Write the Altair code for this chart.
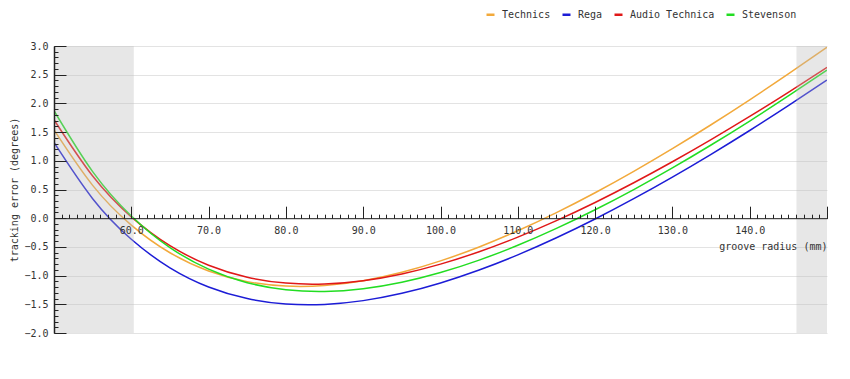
import altair as alt
import pandas as pd

# ---- data ----
radius = [50, 55, 60, 65, 70, 75, 80, 85, 90, 95, 100, 105, 110, 115, 120,
          125, 130, 135, 140, 145, 150]
technics = [1.537, 0.572, -0.120, -0.602, -0.919, -1.105, -1.183, -1.173, -1.089,
            -0.943, -0.744, -0.501, -0.218, 0.098, 0.444, 0.817, 1.212, 1.628,
            2.062, 2.513, 2.978]
rega = [1.319, 0.340, -0.367, -0.864, -1.198, -1.400, -1.495, -1.502, -1.436,
        -1.309, -1.128, -0.903, -0.639, -0.341, -0.014, 0.340, 0.716, 1.113,
        1.528, 1.960, 2.406]
audio_technica = [1.715, 0.735, 0.024, -0.479, -0.819, -1.028, -1.131, -1.146,
                  -1.089, -0.971, -0.800, -0.584, -0.330, -0.043, 0.274, 0.617,
                  0.983, 1.369, 1.773, 2.193, 2.628]
stevenson = [1.872, 0.811, 0.039, -0.512, -0.888, -1.124, -1.247, -1.277, -1.229,
             -1.116, -0.947, -0.730, -0.472, -0.178, 0.147, 0.499, 0.876, 1.275,
             1.693, 2.129, 2.580]

series_names = ["Technics", "Rega", "Audio Technica", "Stevenson"]
series_colors = ["#f2a93b", "#1c1cd6", "#e01818", "#22dd22"]

shade_start = [50.0, 146.05]
shade_end = [60.325, 150.0]

x_domain = [50, 150]
y_domain = [-2, 3]
x_label_values = [60, 70, 80, 90, 100, 110, 120, 130, 140]
x_major_ticks = [50, 60, 70, 80, 90, 100, 110, 120, 130, 140, 150]
x_minor_ticks = list(range(50, 151))
y_major = [-2.0, -1.5, -1.0, -0.5, 0.0, 0.5, 1.0, 1.5, 2.0, 2.5, 3.0]
y_minor = [round(-2 + 0.1 * i, 1) for i in range(51)]

# ---- tables ----
rows = []
for name, vals in zip(series_names, [technics, rega, audio_technica, stevenson]):
    for r, v in zip(radius, vals):
        rows.append({"radius": r, "error": v, "arm": name})
df = pd.DataFrame(rows)
shade_df = pd.DataFrame({"x0": shade_start, "x1": shade_end})

W, H = 773, 287
y_zero_from_top = H * (y_domain[1] - 0) / (y_domain[1] - y_domain[0])
FONT = "DejaVu Sans Mono"
TXT = "#333333"

xs = alt.Scale(domain=x_domain, nice=False, zero=False)
ys = alt.Scale(domain=y_domain, nice=False, zero=False)

# grid (behind everything)
grid_layer = alt.Chart(df).mark_point(opacity=0).encode(
    x=alt.X("radius:Q", scale=xs, axis=None),
    y=alt.Y("error:Q", scale=ys, axis=alt.Axis(
        orient="left", values=y_major, grid=True, gridColor="#e3e3e3",
        gridWidth=1, labels=False, ticks=False, domain=False, title=None,
        zindex=0)),
)

lines = alt.Chart(df).mark_line(strokeWidth=1.5, interpolate="natural", clip=True).encode(
    x=alt.X("radius:Q", scale=xs, axis=alt.Axis(
        orient="bottom", offset=-(H - y_zero_from_top), values=x_label_values,
        format=".1f", ticks=False, tickSize=0, domain=False, grid=False,
        labelPadding=7, labelFont=FONT, labelFontSize=10, labelColor=TXT,
        title="groove radius (mm)", titleFont=FONT, titleFontSize=10,
        titleFontWeight="normal", titleColor=TXT, titleAnchor="end",
        titlePadding=6, zindex=1)),
    y=alt.Y("error:Q", scale=ys, axis=alt.Axis(
        orient="left", values=y_major, format=".1f", grid=False, ticks=False,
        tickSize=0, domain=True, domainColor="#222222", domainWidth=1.5,
        labelPadding=6, labelFont=FONT, labelFontSize=10, labelColor=TXT,
        title="tracking error (degrees)", titleFont=FONT, titleFontSize=10,
        titleFontWeight="normal", titleColor=TXT, titlePadding=4, zindex=1)),
    color=alt.Color("arm:N", scale=alt.Scale(domain=series_names, range=series_colors),
                    legend=alt.Legend(
                        title=None, orient="none", legendX=431, legendY=-37,
                        direction="horizontal", symbolType="stroke",
                        symbolSize=64, symbolStrokeWidth=2.5, labelFont=FONT,
                        labelFontSize=10, labelColor=TXT, columnPadding=6,
                        labelOffset=6, padding=0)),
    detail="arm:N",
)

shade = alt.Chart(shade_df).mark_rect(color="#bbbbbb", opacity=0.35).encode(
    x=alt.X("x0:Q", scale=xs, axis=None),
    x2="x1:Q",
    y=alt.Y(datum=y_domain[1], scale=ys, axis=None),
    y2=alt.Y2(datum=y_domain[0]),
)

major_ticks = alt.Chart(df).mark_point(opacity=0).encode(
    x=alt.X("radius:Q", scale=xs, axis=alt.Axis(
        orient="top", offset=-y_zero_from_top, values=x_major_ticks,
        labels=False, ticks=True, tickSize=12, tickColor="#222222",
        tickWidth=1, domain=True, domainColor="#222222", domainWidth=1,
        grid=False, title=None, zindex=2)),
    y=alt.Y("error:Q", scale=ys, axis=alt.Axis(
        orient="right", offset=-W, values=y_major, labels=False, ticks=True,
        tickSize=12, tickColor="#222222", tickWidth=1, domain=False,
        grid=False, title=None, zindex=2)),
)

minor_ticks = alt.Chart(df).mark_point(opacity=0).encode(
    x=alt.X("radius:Q", scale=xs, axis=alt.Axis(
        orient="top", offset=-y_zero_from_top, values=x_minor_ticks,
        labels=False, ticks=True, tickSize=4, tickColor="#222222",
        tickWidth=1, domain=False, grid=False, title=None, zindex=2)),
    y=alt.Y("error:Q", scale=ys, axis=alt.Axis(
        orient="right", offset=-W, values=y_minor, labels=False, ticks=True,
        tickSize=4, tickColor="#222222", tickWidth=1, domain=False,
        grid=False, title=None, zindex=2)),
)

chart = alt.layer(grid_layer, lines, shade, major_ticks, minor_ticks).resolve_axis(
    x="independent", y="independent"
).properties(
    width=W, height=H,
    autosize=alt.AutoSizeParams(type="none"),
    padding={"left": 46, "top": 38, "right": 15, "bottom": 38},
    background="white",
).configure_view(stroke=None)

chart.save("out.html", embed_options={"renderer": "svg", "actions": False})
